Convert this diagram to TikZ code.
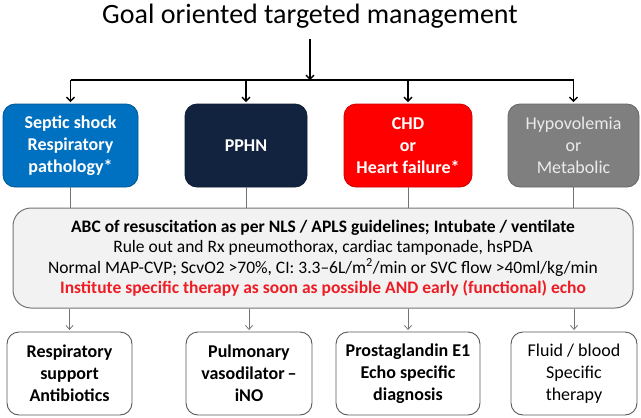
\documentclass[tikz,border=0pt]{standalone}
\usepackage{fontspec}
\setmainfont{Carlito}
\usetikzlibrary{arrows.meta,positioning}
\definecolor{sepblue}{HTML}{0070C0}
\definecolor{pphnnavy}{HTML}{12233F}
\definecolor{chdred}{HTML}{FF0000}
\definecolor{hypogray}{HTML}{7F7F7F}
\definecolor{panelgray}{HTML}{F2F2F2}
\definecolor{alertred}{HTML}{EE1C24}

\begin{document}
\begin{tikzpicture}[
  x=1pt,y=-1pt,
  cause/.style={draw,line width=0.8pt,rounded corners=12pt,align=center,inner sep=0pt,
                minimum height=83pt,text=white,font=\fontsize{18}{22}\selectfont\bfseries},
  therapy/.style={draw=black!65,line width=0.9pt,rounded corners=12pt,align=center,inner sep=0pt,
                minimum height=83pt,fill=white,font=\fontsize{18}{22}\selectfont\bfseries},
  panel/.style={draw=black!55,line width=1pt,fill=panelgray,rounded corners=18pt,align=center,
                inner sep=0pt,minimum width=620pt,minimum height=100pt,
                font=\fontsize{17.5}{20.5}\selectfont},
  flow/.style={-{Straight Barb[length=4pt,width=8pt]},line width=1.4pt},
  link/.style={draw=black!55,line width=0.8pt},
  feed/.style={-{Straight Barb[length=4pt,width=7pt]},draw=black!55,line width=0.8pt}]
\useasboundingbox (0,0) rectangle (641,418);

\node[anchor=base,font=\fontsize{28}{32}\selectfont] (title) at (310,23) {Goal oriented targeted management};

% row of causes
\node[cause,fill=sepblue,draw=sepblue!75!black,minimum width=135pt] (sep) at (70.5,145.5)
  {Septic shock\\Respiratory\\pathology*};
\node[cause,fill=pphnnavy,draw=pphnnavy!80!black,minimum width=122pt] (pphn) at (246,145.5) {PPHN};
\node[cause,fill=chdred,draw=chdred!80!black,minimum width=128pt] (chd) at (408,145.5)
  {CHD\\or\\Heart failure*};
\node[cause,fill=hypogray,draw=hypogray!80!black,text=black!8,font=\fontsize{18}{22}\selectfont,
      minimum width=131pt] (hypo) at (573.5,145.5) {Hypovolemia\\or\\Metabolic};

% common resuscitation panel
\node[panel] (abc) at (323,258) {\textbf{ABC of resuscitation as per NLS / APLS guidelines; Intubate / ventilate}\\
  Rule out and Rx pneumothorax, cardiac tamponade, hsPDA\\
  Normal MAP-CVP; ScvO2 >70\%, CI: 3.3--6L/m\textsuperscript{2}/min or SVC flow >40ml/kg/min\\
  \textcolor{alertred}{\bfseries Institute specific therapy as soon as possible AND early (functional) echo}};

% row of therapies
\node[therapy,minimum width=125pt] (resp) at (69.5,373.5) {Respiratory\\support\\Antibiotics};
\node[therapy,minimum width=126pt] (pulm) at (249,373.5) {Pulmonary\\vasodilator\,--\\iNO};
\node[therapy,minimum width=144pt] (pge) at (408,373.5) {Prostaglandin E1\\Echo specific\\diagnosis};
\node[therapy,font=\fontsize{18}{22}\selectfont,minimum width=126pt] (fluid) at (574,373.5)
  {Fluid / blood\\Specific\\therapy};

\coordinate (busy) at (0,80);
\draw[flow] ([yshift=-8pt]title.south) -- (title.south |- busy);
\draw[line width=1.4pt] (sep.north |- busy) -- (hypo.north |- busy);
\foreach \b in {sep,pphn,chd,hypo}
  \draw[flow,shorten >=1.5pt] (\b.north |- busy) -- (\b.north);
\foreach \b in {sep,pphn,chd,hypo}
  \draw[link] (\b.south) -- (\b.south |- abc.north);
\foreach \b in {resp,pulm,pge,fluid}
  \draw[feed,shorten >=1.5pt] (\b.north |- abc.south) -- (\b.north);
\end{tikzpicture}
\end{document}
